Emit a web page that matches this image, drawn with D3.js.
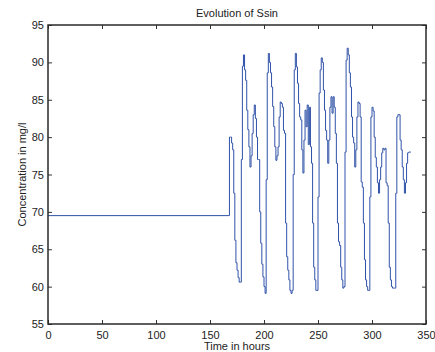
<!DOCTYPE html>
<html>
<head>
<meta charset="utf-8">
<script src="https://cdn.jsdelivr.net/npm/d3@7"></script>
<style>
  body { margin: 0; background: #fff; }
  text { font-family: "Liberation Sans", Arial, sans-serif; font-size: 11px; fill: #222; }
</style>
</head>
<body>
<svg id="chart" width="435" height="352"></svg>
<script>
// steady-state influent for the first week, then hourly dynamic values (mg/l)
const steadyLevel = 69.5;
const steadyEnd = 168;
const day1 = [80.0, 80.0, 79.2, 78.3, 72.5, 66.2, 63.2, 62.2, 61.2, 60.6, 60.6, 77.0,
              89.5, 91.0, 89.0, 87.6, 83.6, 81.0, 78.7, 76.0, 77.5, 80.5, 83.0, 84.3];
const day2 = [82.5, 80.0, 77.0, 77.0, 70.0, 65.8, 63.0, 61.3, 60.0, 59.1, 74.3, 88.6,
              91.2, 90.0, 88.6, 86.7, 84.1, 81.4, 78.7, 76.9, 77.5, 78.7, 82.7, 84.7];
const day3 = [84.5, 84.0, 80.9, 80.5, 68.5, 64.0, 62.2, 60.9, 59.5, 59.1, 59.5, 75.0,
              89.0, 91.2, 89.4, 87.2, 84.5, 82.7, 82.3, 78.3, 75.2, 79.6, 83.6, 81.4];
const day4 = [84.3, 79.0, 84.0, 78.7, 76.5, 68.5, 62.6, 60.9, 59.5, 59.5, 72.0, 85.9,
              89.0, 90.6, 90.0, 86.3, 83.6, 80.9, 79.6, 76.5, 79.6, 84.0, 85.4, 83.2];
const day5 = [85.4, 84.0, 80.5, 76.5, 68.5, 66.0, 65.5, 62.6, 60.9, 59.8, 60.0, 78.0,
              90.3, 91.9, 91.0, 88.6, 86.7, 82.7, 80.0, 79.2, 76.0, 78.3, 82.7, 84.7];
const day6 = [84.5, 82.7, 74.0, 73.3, 68.5, 63.6, 60.9, 60.0, 59.5, 59.5, 72.0, 82.7,
              84.0, 83.5, 80.0, 77.3, 76.0, 73.9, 72.5, 74.3, 76.0, 77.9, 78.5, 78.3];
const day7 = [78.5, 73.9, 73.5, 68.5, 62.6, 60.9, 60.0, 59.8, 59.8, 59.8, 72.5, 82.7,
              83.0, 83.0, 79.6, 78.3, 76.0, 74.3, 72.5, 73.9, 76.5, 77.9, 78.0, 78.0];
const dynamicDays = [day1, day2, day3, day4, day5, day6, day7];

const xTicks = [0, 50, 100, 150, 200, 250, 300, 350];
const yTicks = [55, 60, 65, 70, 75, 80, 85, 90, 95];

const titleText = "Evolution of Ssin";
const xLabel = "Time in hours";
const yLabel = "Concentration in mg/l";

// build the series
let series = [{ t: 0, v: steadyLevel }];
dynamicDays.forEach((day, d) => {
    day.forEach((v, h) => {
        series.push({ t: steadyEnd + d * 24 + h, v: v });
    });
});
const last = series[series.length - 1];
series.push({ t: last.t + 1, v: last.v });

const margin = { left: 48, right: 9, top: 25, bottom: 28 };
const width = 435, height = 352;

const x = d3.scaleLinear().domain([0, 350]).range([margin.left, width - margin.right]);
const y = d3.scaleLinear().domain([55, 95]).range([height - margin.bottom, margin.top]);

const svg = d3.select("#chart");

// data line
const line = d3.line()
    .x(d => x(d.t))
    .y(d => y(d.v))
    .curve(d3.curveStepAfter);

svg.append("path")
    .datum(series)
    .attr("fill", "none")
    .attr("stroke", "#2f52a8")
    .attr("stroke-width", 1)
    .attr("d", line);

// axes, ticks pointing inward on all four sides
const bottomAxis = svg.append("g")
    .attr("transform", `translate(0,${y(55)})`)
    .call(d3.axisBottom(x).tickValues(xTicks).tickSize(-4).tickPadding(7));
const topAxis = svg.append("g")
    .attr("transform", `translate(0,${y(95)})`)
    .call(d3.axisTop(x).tickValues(xTicks).tickSize(-4).tickFormat(""));
const leftAxis = svg.append("g")
    .attr("transform", `translate(${x(0)},0)`)
    .call(d3.axisLeft(y).tickValues(yTicks).tickSize(-4).tickPadding(4));
const rightAxis = svg.append("g")
    .attr("transform", `translate(${x(350)},0)`)
    .call(d3.axisRight(y).tickValues(yTicks).tickSize(-4).tickFormat(""));

[bottomAxis, topAxis, leftAxis, rightAxis].forEach(g => {
    g.select(".domain").remove();
    g.selectAll(".tick line").attr("stroke", "#333");
    g.selectAll(".tick text").attr("fill", "#222").style("font-size", "11px");
});

// box
svg.append("rect")
    .attr("x", x(0))
    .attr("y", y(95))
    .attr("width", x(350) - x(0))
    .attr("height", y(55) - y(95))
    .attr("fill", "none")
    .attr("stroke", "#2a2a2a")
    .attr("stroke-width", 1.5);

// labels
svg.append("text")
    .attr("x", (x(0) + x(350)) / 2)
    .attr("y", 17)
    .attr("text-anchor", "middle")
    .text(titleText);

svg.append("text")
    .attr("x", (x(0) + x(350)) / 2)
    .attr("y", 350)
    .attr("text-anchor", "middle")
    .text(xLabel);

svg.append("text")
    .attr("transform", `translate(26,${(y(55) + y(95)) / 2}) rotate(-90)`)
    .attr("text-anchor", "middle")
    .text(yLabel);
</script>
</body>
</html>
